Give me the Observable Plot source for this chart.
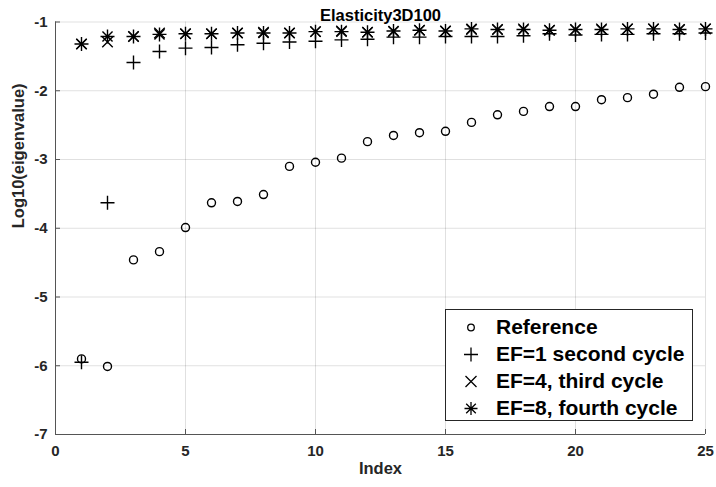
<!DOCTYPE html>
<html>
<head>
<meta charset="utf-8">
<script src="https://cdn.jsdelivr.net/npm/d3@7"></script>
<script src="https://cdn.jsdelivr.net/npm/@observablehq/plot@0.6"></script>
<style>
  html, body { margin: 0; padding: 0; background: #fff; }
  #wrap { position: relative; width: 716px; height: 487px; font-family: "Liberation Sans", Arial, sans-serif; }
  #legend { position: absolute; left: 445px; top: 309px; width: 246px; height: 110px; border: 1px solid #262626; background: #fff; box-sizing: content-box; }
  .row { position: absolute; left: 0; height: 27px; display: flex; align-items: center; }
  .row svg { width: 50px; height: 27px; }
  .row span { font-weight: bold; font-size: 21px; color: #000; margin-left: 0px; white-space: nowrap; }
</style>
</head>
<body>
<div id="wrap"></div>
<script>
// ---- data ----
const indexValues = [1,2,3,4,5,6,7,8,9,10,11,12,13,14,15,16,17,18,19,20,21,22,23,24,25];
const reference = [-5.90,-6.01,-4.46,-4.34,-3.99,-3.63,-3.61,-3.51,-3.10,-3.04,-2.98,-2.74,-2.65,-2.61,-2.59,-2.46,-2.35,-2.30,-2.23,-2.23,-2.13,-2.10,-2.05,-1.95,-1.94];
const ef1Second = [-5.95,-3.63,-1.59,-1.43,-1.38,-1.37,-1.33,-1.31,-1.29,-1.28,-1.26,-1.25,-1.22,-1.22,-1.21,-1.21,-1.21,-1.20,-1.17,-1.19,-1.18,-1.18,-1.17,-1.17,-1.16];
const ef4Third  = [-1.32,-1.29,-1.21,-1.16,-1.17,-1.17,-1.16,-1.15,-1.16,-1.14,-1.13,-1.15,-1.14,-1.12,-1.13,-1.11,-1.11,-1.10,-1.12,-1.11,-1.10,-1.10,-1.10,-1.11,-1.10];
const ef8Fourth = [-1.32,-1.21,-1.21,-1.18,-1.17,-1.17,-1.16,-1.16,-1.16,-1.14,-1.14,-1.15,-1.13,-1.12,-1.13,-1.10,-1.11,-1.11,-1.12,-1.11,-1.11,-1.10,-1.10,-1.11,-1.10];
const seriesNames = ["Reference", "EF=1 second cycle", "EF=4, third cycle", "EF=8, fourth cycle"];
const xTicks = [0,5,10,15,20,25];
const yTicks = [-7,-6,-5,-4,-3,-2,-1];
const titleText = "Elasticity3D100";
const xLabel = "Index";
const yLabel = "Log10(eigenvalue)";

// ---- custom MATLAB-like stroke symbols ----
const plusSym = {draw(ctx, size) { const r = Math.sqrt(size / Math.PI); ctx.moveTo(-r, 0); ctx.lineTo(r, 0); ctx.moveTo(0, -r); ctx.lineTo(0, r); }};
const timesSym = {draw(ctx, size) { const r = Math.sqrt(size / Math.PI) * 0.75; ctx.moveTo(-r, -r); ctx.lineTo(r, r); ctx.moveTo(-r, r); ctx.lineTo(r, -r); }};
const starSym = {draw(ctx, size) { const r = Math.sqrt(size / Math.PI); const d = r * 0.72; ctx.moveTo(-r, 0); ctx.lineTo(r, 0); ctx.moveTo(0, -r); ctx.lineTo(0, r); ctx.moveTo(-d, -d); ctx.lineTo(d, d); ctx.moveTo(-d, d); ctx.lineTo(d, -d); }};

const rows = (vals) => indexValues.map((x, i) => ({x, y: vals[i]}));
const dark = "#262626";
const textStyle = {fontWeight: "bold", fontSize: 15, fill: dark};
const fmt = (d) => String(d);

const chart = Plot.plot({
  width: 716,
  height: 487,
  marginLeft: 55,
  marginRight: 11,
  marginTop: 21.5,
  marginBottom: 53,
  style: {fontFamily: "'Liberation Sans', Arial, sans-serif", background: "#fff", color: dark},
  x: {domain: [0, 25]},
  y: {domain: [-7, -1]},
  marks: [
    Plot.gridX(xTicks, {stroke: "#000", strokeOpacity: 0.12}),
    Plot.gridY(yTicks, {stroke: "#000", strokeOpacity: 0.12}),
    Plot.axisX(xTicks, {tickSize: -5, tickPadding: 16, tickFormat: fmt, ...textStyle, label: null, stroke: "#555"}),
    Plot.axisY(yTicks, {tickSize: -5, tickPadding: 13, tickFormat: fmt, ...textStyle, label: null, stroke: "#555"}),
    Plot.ruleY([-7], {stroke: "#555"}),
    Plot.ruleX([0], {stroke: "#555"}),
    Plot.dot(rows(reference), {x: "x", y: "y", symbol: "circle", r: 4, stroke: "#000", fill: "none", strokeWidth: 1.4}),
    Plot.dot(rows(ef1Second), {x: "x", y: "y", symbol: plusSym, r: 7, stroke: "#000", fill: "none", strokeWidth: 1.4}),
    Plot.dot(rows(ef4Third), {x: "x", y: "y", symbol: timesSym, r: 7, stroke: "#000", fill: "none", strokeWidth: 1.4}),
    Plot.dot(rows(ef8Fourth), {x: "x", y: "y", symbol: starSym, r: 7, stroke: "#000", fill: "none", strokeWidth: 1.4}),
    Plot.text([titleText], {frameAnchor: "top", dy: -13, fontWeight: "bold", fontSize: 16.5, fill: "#000"}),
    Plot.text([xLabel], {frameAnchor: "bottom", dy: 39, fontWeight: "bold", fontSize: 16.5, fill: dark}),
    Plot.text([yLabel], {frameAnchor: "left", dx: -37, rotate: -90, fontWeight: "bold", fontSize: 16.5, fill: dark})
  ]
});

const wrap = document.getElementById("wrap");
wrap.appendChild(chart);

// ---- legend (HTML overlay) ----
const legend = document.createElement("div");
legend.id = "legend";
const symbols = [
  `<circle cx="25" cy="13.5" r="3.3" fill="none" stroke="#000" stroke-width="1.3"/>`,
  `<path d="M18,13.5H32M25,6.5V20.5" stroke="#000" stroke-width="1.3"/>`,
  `<path d="M19.5,8L30.5,19M19.5,19L30.5,8" stroke="#000" stroke-width="1.3"/>`,
  `<path d="M18.5,13.5H31.5M25,7V20M20.2,8.7L29.8,18.3M20.2,18.3L29.8,8.7" stroke="#000" stroke-width="1.3"/>`
];
seriesNames.forEach((name, i) => {
  const row = document.createElement("div");
  row.className = "row";
  row.style.top = (3.5 + i * 27) + "px";
  row.innerHTML = `<svg viewBox="0 0 50 27">${symbols[i]}</svg><span>${name}</span>`;
  legend.appendChild(row);
});
wrap.appendChild(legend);
</script>
</body>
</html>
